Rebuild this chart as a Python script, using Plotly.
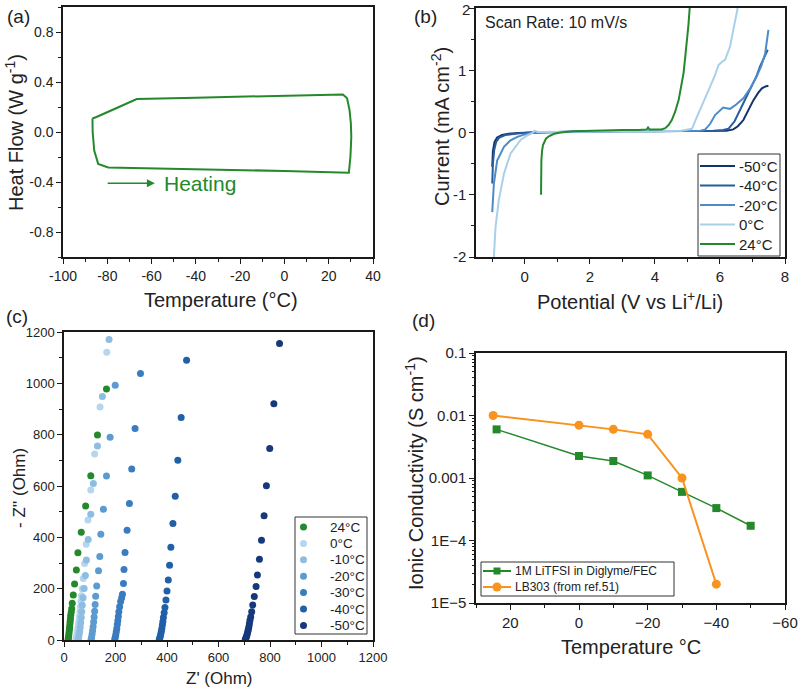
import plotly.graph_objects as go

# ---------------- Data ----------------
# (a) DSC loop
dsc_temp = [-86.7, -84.9, -76.0, -66.7, -40.0, 0.0, 26.4, 28.3, 29.4, 30.0, 30.2, 29.8, 29.1, 0.0, -40.0, -79.6, -84.1, -85.9, -86.6, -86.7]
dsc_flow = [0.108, 0.120, 0.19, 0.264, 0.275, 0.288, 0.300, 0.27, 0.175, 0.07, -0.04, -0.2, -0.325, -0.312, -0.298, -0.283, -0.256, -0.148, 0.0, 0.108]

# (b) LSV curves
lsv_labels = ["-50°C", "-40°C", "-20°C", "0°C", "24°C"]
lsv_m50_x = [-1.0, -0.98, -0.93, -0.85, -0.7, -0.5, -0.2, 0.2, 1, 2, 3, 4, 5, 5.8, 6.2, 6.41, 6.55, 6.72, 6.88, 7.03, 7.18, 7.29, 7.4, 7.49]
lsv_m50_y = [-0.55, -0.3, -0.15, -0.08, -0.04, -0.02, -0.01, 0.0, 0.01, 0.02, 0.02, 0.02, 0.02, 0.02, 0.03, 0.05, 0.1, 0.2, 0.36, 0.52, 0.64, 0.71, 0.74, 0.75]
lsv_m40_x = [-1.0, -0.98, -0.94, -0.88, -0.78, -0.6, -0.3, 0.1, 1, 2, 3, 4, 5, 5.8, 6.1, 6.26, 6.45, 6.62, 6.8, 6.98, 7.12, 7.23, 7.36, 7.47]
lsv_m40_y = [-0.82, -0.5, -0.28, -0.15, -0.08, -0.04, -0.02, 0.0, 0.01, 0.02, 0.02, 0.02, 0.02, 0.03, 0.04, 0.06, 0.18, 0.36, 0.55, 0.74, 0.9, 1.06, 1.2, 1.33]
lsv_m20_x = [-1.0, -0.95, -0.85, -0.64, -0.45, -0.23, 0.0, 0.28, 1, 2, 3, 4, 5, 5.4, 5.55, 5.7, 5.85, 6.0, 6.1, 6.2, 6.31, 6.5, 6.72, 6.92, 7.13, 7.28, 7.39, 7.49]
lsv_m20_y = [-1.28, -0.82, -0.45, -0.23, -0.13, -0.07, -0.03, 0.0, 0.01, 0.02, 0.02, 0.02, 0.02, 0.03, 0.05, 0.14, 0.28, 0.36, 0.40, 0.39, 0.38, 0.45, 0.55, 0.7, 0.9, 1.08, 1.27, 1.65]
lsv_0_x = [-0.96, -0.95, -0.9, -0.8, -0.64, -0.44, -0.13, 0.1, 0.23, 0.3, 0.4, 1, 2, 3, 4, 4.8, 5.14, 5.25, 5.39, 5.55, 5.7, 5.85, 5.95, 6.05, 6.16, 6.31, 6.47, 6.57, 6.62]
lsv_0_y = [-2.2, -2.0, -1.52, -1.09, -0.66, -0.34, -0.12, -0.04, -0.01, 0.03, 0.01, 0.01, 0.02, 0.02, 0.02, 0.03, 0.06, 0.2, 0.36, 0.55, 0.74, 0.92, 1.08, 1.13, 1.17, 1.38, 1.76, 2.0, 2.2]
lsv_24_x = [0.5, 0.5, 0.51, 0.53, 0.56, 0.65, 0.74, 0.9, 1.1, 1.5, 2, 2.5, 3, 3.5, 3.75, 3.79, 3.83, 4, 4.2, 4.32, 4.42, 4.52, 4.62, 4.73, 4.8, 4.88, 4.93, 4.98, 5.03, 5.07, 5.1]
lsv_24_y = [-1.0, -0.7, -0.45, -0.3, -0.2, -0.1, -0.06, -0.02, 0.0, 0.02, 0.03, 0.03, 0.04, 0.04, 0.05, 0.08, 0.05, 0.05, 0.05, 0.07, 0.12, 0.2, 0.33, 0.52, 0.7, 0.95, 1.2, 1.44, 1.72, 2.0, 2.3]
lsv_yticks = [-2, -1, 0, 1, 2]

# (c) Nyquist plots
eis_labels = ["24°C", "0°C", "-10°C", "-20°C", "-30°C", "-40°C", "-50°C"]
eis_24_x = [16, 17, 18, 19, 20, 21, 22, 23, 24, 25, 26, 28, 30, 32, 36, 41, 48, 54, 67, 84, 104, 130, 165]
eis_24_y = [2, 8, 15, 23, 32, 42, 52, 62, 73, 84, 96, 108, 122, 143, 175, 218, 273, 340, 420, 522, 640, 799, 978]
eis_0_x = [46, 48, 50, 52, 54, 56, 58, 60, 62, 64, 66, 68, 71, 75, 80, 86, 93, 104, 119, 140, 166]
eis_0_y = [2, 10, 20, 32, 45, 60, 75, 92, 110, 130, 150, 172, 200, 240, 298, 373, 468, 584, 725, 908, 1121]
eis_m10_x = [55, 57, 59, 61, 63, 65, 67, 69, 71, 74, 78, 83, 87, 94, 104, 114, 130, 149, 175]
eis_m10_y = [2, 10, 22, 35, 50, 68, 88, 110, 135, 165, 201, 251, 312, 392, 490, 610, 756, 949, 1171]
eis_m20_x = [105, 107, 109, 111, 113, 115, 117, 119, 121, 123, 127, 134, 139, 143, 153, 165, 179, 199]
eis_m20_y = [2, 10, 22, 36, 52, 70, 90, 112, 138, 170, 210, 270, 325, 412, 509, 639, 790, 993]
eis_m30_x = [197, 199, 201, 203, 205, 207, 209, 211, 213, 216, 220, 224, 227, 231, 233, 237, 245, 254, 263, 276, 297]
eis_m30_y = [2, 10, 20, 32, 45, 60, 75, 92, 110, 130, 150, 165, 178, 220, 275, 341, 428, 532, 666, 824, 1038]
eis_m40_x = [370, 372, 374, 376, 378, 380, 382, 384, 386, 389, 392, 396, 400, 405, 410, 415, 423, 432, 442, 455, 476]
eis_m40_y = [2, 8, 15, 24, 34, 45, 58, 72, 88, 106, 127, 156, 191, 234, 291, 361, 454, 560, 700, 867, 1090]
eis_m50_x = [704, 706, 708, 710, 712, 714, 716, 718, 720, 722, 725, 729, 733, 739, 746, 751, 759, 767, 777, 786, 799, 815, 837]
eis_m50_y = [2, 6, 12, 18, 25, 33, 42, 52, 63, 76, 90, 110, 136, 169, 208, 253, 315, 389, 484, 601, 746, 920, 1155]

# (d) Ionic conductivity
cond_temp_a = [24, 0, -10, -20, -30, -40, -50]
cond_val_a = [0.0060, 0.00225, 0.00187, 0.0011, 0.00060, 0.00033, 0.000172]
cond_temp_b = [25, 0, -10, -20, -30, -40]
cond_val_b = [0.0100, 0.0070, 0.0060, 0.0050, 0.0010, 0.00002]
cond_labels = ["1M LiTFSI in Diglyme/FEC", "LB303 (from ref.51)"]

# ---------------- Styles ----------------
FONT = "Liberation Sans, Arial, sans-serif"
GREEN = "#23892b"
ORANGE = "#f7931e"
INK = "#1a1a1a"
W, H = 800, 689


def dx(a, b):
    return [a / W, b / W]


def dy(top, bot):
    return [1 - bot / H, 1 - top / H]


def px(x):
    return x / W


def py(y):
    return 1 - y / H


def axis(**kw):
    base = dict(showline=True, linecolor=INK, linewidth=1.5, mirror=True,
                ticks="outside", ticklen=5, tickwidth=1.2, tickcolor=INK,
                showgrid=False, zeroline=False, automargin=False,
                tickfont=dict(family=FONT, size=14, color="#222"))
    base.update(kw)
    return base


fig = go.Figure()

# (a)
fig.add_trace(go.Scatter(x=dsc_temp, y=dsc_flow, mode="lines",
                         line=dict(color=GREEN, width=2), showlegend=False,
                         xaxis="x", yaxis="y"))

# (b)
lsv_colors = ["#13336b", "#285c9c", "#4d8cc8", "#a9d0ea", GREEN]
lsv_data = [(lsv_m50_x, lsv_m50_y), (lsv_m40_x, lsv_m40_y), (lsv_m20_x, lsv_m20_y),
            (lsv_0_x, lsv_0_y), (lsv_24_x, lsv_24_y)]
for lab, col, (xs, ys) in zip(lsv_labels, lsv_colors, lsv_data):
    fig.add_trace(go.Scatter(x=xs, y=ys, mode="lines", name=lab, showlegend=False,
                             line=dict(color=col, width=2), xaxis="x2", yaxis="y2"))

# (c)
eis_colors = [GREEN, "#b5d6ee", "#8dbde2", "#5c9bd1", "#3a7cbf", "#2160a7", "#15397a"]
eis_data = [(eis_24_x, eis_24_y), (eis_0_x, eis_0_y), (eis_m10_x, eis_m10_y),
            (eis_m20_x, eis_m20_y), (eis_m30_x, eis_m30_y), (eis_m40_x, eis_m40_y),
            (eis_m50_x, eis_m50_y)]
for lab, col, (xs, ys) in zip(eis_labels, eis_colors, eis_data):
    fig.add_trace(go.Scatter(x=xs, y=ys, mode="markers", name=lab, showlegend=False,
                             marker=dict(color=col, size=7), xaxis="x3", yaxis="y3"))

# (d)
cond_colors = [GREEN, ORANGE]
fig.add_trace(go.Scatter(x=cond_temp_a, y=cond_val_a, mode="lines+markers", name=cond_labels[0],
                         showlegend=False, line=dict(color=GREEN, width=1.5),
                         marker=dict(symbol="square", size=8, color=GREEN),
                         xaxis="x4", yaxis="y4"))
fig.add_trace(go.Scatter(x=cond_temp_b, y=cond_val_b, mode="lines+markers", name=cond_labels[1],
                         showlegend=False, line=dict(color=ORANGE, width=2),
                         marker=dict(symbol="circle", size=9, color=ORANGE),
                         xaxis="x4", yaxis="y4"))

minor_log = [m * 10 ** e for e in range(-5, -1) for m in range(2, 10)]

fig.update_layout(
    width=W, height=H,
    margin=dict(l=0, r=0, t=0, b=0),
    paper_bgcolor="white", plot_bgcolor="white",
    font=dict(family=FONT, color="#222"),
    showlegend=False,
    xaxis=axis(domain=dx(63, 373), anchor="y", range=[-100, 40],
               tickvals=[-100, -80, -60, -40, -20, 0, 20, 40],
               ticktext=["-100", "-80", "-60", "-40", "-20", "0", "20", "40"],
               minor=dict(ticks="outside", ticklen=3, dtick=10, tickcolor=INK)),
    yaxis=axis(domain=dy(7, 257), anchor="x", range=[-1, 1],
               tickvals=[-0.8, -0.4, 0, 0.4, 0.8],
               ticktext=["-0.8", "-0.4", "0.0", "0.4", "0.8"],
               minor=dict(ticks="outside", ticklen=3, dtick=0.2, tick0=0, tickcolor=INK)),
    xaxis2=axis(domain=dx(476, 785), anchor="y2", range=[-1.5, 8],
                tickvals=[0, 2, 4, 6, 8], tickfont=dict(family=FONT, size=15, color="#222"),
                minor=dict(ticks="outside", ticklen=3, dtick=1, tick0=0, tickcolor=INK)),
    yaxis2=axis(domain=dy(8, 257), anchor="x2", range=[-2, 2],
                tickvals=lsv_yticks, ticktext=["-2", "-1", "0", "1", ""],
                tickfont=dict(family=FONT, size=15, color="#222"),
                minor=dict(ticks="outside", ticklen=3, dtick=0.5, tick0=0, tickcolor=INK)),
    xaxis3=axis(domain=dx(64, 373), anchor="y3", range=[0, 1200], dtick=200,
                tickfont=dict(family=FONT, size=13, color="#222"),
                minor=dict(ticks="outside", ticklen=3, dtick=100, tickcolor=INK)),
    yaxis3=axis(domain=dy(332, 640), anchor="x3", range=[0, 1200], dtick=200,
                tickfont=dict(family=FONT, size=13, color="#222"),
                minor=dict(ticks="outside", ticklen=3, dtick=100, tickcolor=INK)),
    xaxis4=axis(domain=dx(476, 785), anchor="y4", range=[30, -60],
                tickvals=[20, 0, -20, -40, -60], ticktext=["20", "0", "\u221220", "\u221240", "\u221260"],
                tickfont=dict(family=FONT, size=15, color="#222"),
                minor=dict(ticks="outside", ticklen=3, dtick=10, tick0=0, tickcolor=INK)),
    yaxis4=axis(domain=dy(353, 603), anchor="x4", type="log", range=[-5, -1],
                tickvals=[1e-5, 1e-4, 1e-3, 1e-2, 1e-1],
                ticktext=["1E\u22125", "1E\u22124", "0.001", "0.01", "0.1"],
                tickfont=dict(family=FONT, size=15, color="#222"),
                minor=dict(ticks="outside", ticklen=2, tickvals=minor_log, tickcolor=INK)),
)

ann = []
shapes = []


def txt(x, y, s, size=20, angle=0, xanchor="center", color="#222"):
    ann.append(dict(x=px(x), y=py(y), xref="paper", yref="paper", text=s,
                    showarrow=False, textangle=angle, xanchor=xanchor, yanchor="middle",
                    font=dict(family=FONT, size=size, color=color)))


# panel labels
txt(18, 17, "(a)", 19)
txt(425, 17, "(b)", 19)
txt(17, 316, "(c)", 19)
txt(423, 320, "(d)", 19)
# axis titles
txt(15, 133, "Heat Flow (W g<sup>-1</sup>)", 20, -90)
txt(221, 300, "Temperature (°C)", 20)
txt(440, 127, "Current (mA cm<sup>-2</sup>)", 20, -90)
txt(630, 300, "Potential (V vs Li<sup>+</sup>/Li)", 20)
txt(19, 488, "- Z'' (Ohm)", 17, -90)
txt(219, 678, "Z' (Ohm)", 17)
txt(414, 473, "Ionic Conductivity (S cm<sup>-1</sup>)", 20, -90)
txt(631, 647, "Temperature °C", 20)
# in-plot texts
txt(483, 23, "Scan Rate: 10 mV/s", 16, xanchor="left")

# top tick label of panel (b): kept inside the page so it is not clipped
ann.append(dict(x=px(471), y=1, xref="paper", yref="paper", text=str(lsv_yticks[-1]),
                showarrow=False, xanchor="right", yanchor="top", borderpad=0,
                font=dict(family=FONT, size=15, color="#222")))

# heating arrow + label in data coordinates of panel (a)
ann.append(dict(x=-58.5, y=-0.41, ax=-80.5, ay=-0.41, xref="x", yref="y", axref="x", ayref="y",
                text="", showarrow=True, arrowhead=2, arrowsize=1, arrowwidth=1.6, arrowcolor=GREEN))
ann.append(dict(x=-55.5, y=-0.41, xref="x", yref="y", text="Heating", showarrow=False,
                xanchor="left", yanchor="middle", font=dict(family=FONT, size=21, color=GREEN)))


def box(x0, y0, x1, y1):
    shapes.append(dict(type="rect", xref="paper", yref="paper", x0=px(x0), x1=px(x1),
                       y0=py(y1), y1=py(y0), line=dict(color="#333", width=1), fillcolor="white",
                       layer="above"))


def hline(x0, x1, y, col, w):
    shapes.append(dict(type="line", xref="paper", yref="paper", x0=px(x0), x1=px(x1),
                       y0=py(y), y1=py(y), line=dict(color=col, width=w), layer="above"))


def dot(cx, cy, r, col, kind="circle"):
    shapes.append(dict(type=kind, xref="paper", yref="paper", x0=px(cx - r), x1=px(cx + r),
                       y0=py(cy + r), y1=py(cy - r), line=dict(width=0), fillcolor=col,
                       layer="above"))


# legend for (b)
box(698, 154, 780, 256)
for i, (lab, col) in enumerate(zip(lsv_labels, lsv_colors)):
    cy = 166 + i * 19.5
    hline(700, 735, cy, col, 2.2)
    txt(737, cy, lab, 15, xanchor="left")

# legend for (c)
box(295, 517, 367, 634)
for i, (lab, col) in enumerate(zip(eis_labels, eis_colors)):
    cy = 527 + i * 16.4
    dot(303.5, cy, 3.5, col)
    txt(328, cy, lab, 13.5, xanchor="left")

# legend for (d)
box(481, 562, 674, 596)
for i, (lab, col) in enumerate(zip(cond_labels, cond_colors)):
    cy = 571 + i * 16
    hline(483, 511, cy, col, 2)
    if i == 0:
        dot(497, cy, 3.5, col, "rect")
    else:
        dot(497, cy, 4.5, col)
    txt(513, cy, lab, 12, xanchor="left")

fig.update_layout(annotations=ann, shapes=shapes)
fig.write_html("out.html", config={"displayModeBar": False},
               post_script="document.body.style.margin='0';document.body.style.padding='0';")
